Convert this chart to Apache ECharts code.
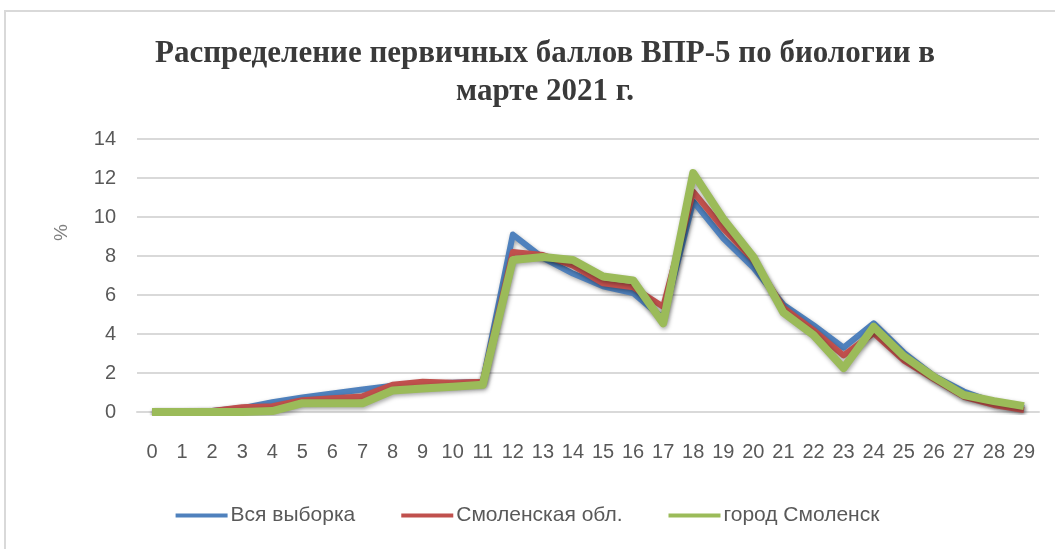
<!DOCTYPE html>
<html>
<head>
<meta charset="utf-8">
<script src="https://cdn.jsdelivr.net/npm/echarts@6/dist/echarts.min.js"></script>
<style>
  html, body { margin: 0; padding: 0; background: #fff; overflow: hidden; }
  #frame { position: absolute; left: 4px; top: 10px; width: 1200px; height: 700px;
           border: 2px solid #d9d9d9; box-sizing: border-box; }
  #chart { position: absolute; left: 0; top: 0; width: 1055px; height: 549px; }
</style>
</head>
<body>
<div id="frame"></div>
<div id="chart"></div>
<script>
// первичные баллы 0..29
var scores = ['0','1','2','3','4','5','6','7','8','9','10','11','12','13','14','15','16','17','18','19','20','21','22','23','24','25','26','27','28','29'];

var allSample = [0, 0, 0.05, 0.2, 0.5, 0.75, 0.95, 1.15, 1.35, 1.45, 1.5, 1.55, 9.1, 7.9, 7.1, 6.45, 6.1, 4.8, 10.8, 8.9, 7.4, 5.5, 4.45, 3.3, 4.55, 3.05, 1.85, 1.05, 0.5, 0.2];
var smolenskRegion = [0, 0, 0.05, 0.25, 0.3, 0.6, 0.7, 0.8, 1.4, 1.55, 1.5, 1.55, 8.2, 8.05, 7.5, 6.6, 6.4, 5.4, 11.3, 9.4, 7.8, 5.35, 4.2, 2.9, 4.05, 2.65, 1.7, 0.78, 0.36, 0.1];
var smolenskCity = [0, 0, 0, 0, 0.05, 0.45, 0.45, 0.45, 1.1, 1.2, 1.3, 1.4, 7.8, 7.95, 7.8, 6.95, 6.75, 4.55, 12.25, 9.9, 7.95, 5.1, 3.95, 2.25, 4.37, 2.87, 1.8, 0.87, 0.56, 0.3];

var yTicks = [0, 2, 4, 6, 8, 10, 12, 14];

var chart = echarts.init(document.getElementById('chart'));

function lineSeries(name, data, color, width) {
    return {
        name: name,
        type: 'line',
        data: data,
        symbol: 'none',
        smooth: false,
        lineStyle: {
            color: color,
            width: width,
            join: 'round',
            shadowColor: 'rgba(0,0,0,0.35)',
            shadowBlur: 4,
            shadowOffsetX: 1,
            shadowOffsetY: 2
        },
        itemStyle: { color: color }
    };
}

var option = {
    animation: false,
    backgroundColor: 'transparent',
    title: {
        text: 'Распределение первичных баллов ВПР-5 по биологии в\nмарте 2021 г.',
        left: 540,
        textAlign: 'center',
        top: 30,
        textStyle: {
            fontFamily: '"Liberation Serif", "DejaVu Serif", serif',
            fontWeight: 'bold',
            fontSize: 31,
            lineHeight: 38,
            color: '#3a3a3a'
        }
    },
    legend: {
        bottom: 18,
        left: 'center',
        itemWidth: 52,
        itemHeight: 4,
        itemGap: 46,
        icon: 'rect',
        textStyle: {
            fontFamily: '"Liberation Sans Narrow", "Liberation Sans", sans-serif',
            fontSize: 21,
            color: '#595959',
            padding: [0, 0, 0, -2]
        },
        data: ['Вся выборка', 'Смоленская обл.', 'город Смоленск']
    },
    grid: {
        left: 137,
        right: 16,
        top: 139,
        bottom: 137,
        containLabel: false
    },
    xAxis: {
        type: 'category',
        data: scores,
        boundaryGap: true,
        axisLine: { show: true, lineStyle: { color: '#d9d9d9', width: 2 } },
        axisTick: { show: false },
        axisLabel: {
            margin: 30,
            interval: 0,
            fontFamily: '"Liberation Sans Narrow", "Liberation Sans", sans-serif',
            fontSize: 20,
            color: '#595959'
        }
    },
    yAxis: {
        type: 'value',
        min: 0,
        max: 14,
        interval: 2,
        name: '%',
        nameLocation: 'middle',
        nameRotate: 90,
        nameGap: 66,
        nameTextStyle: {
            fontFamily: '"Liberation Sans", sans-serif',
            fontSize: 19,
            color: '#7f7f7f',
            padding: [0, 0, 0, 86]
        },
        axisLine: { show: false },
        axisTick: { show: false },
        splitLine: { lineStyle: { color: '#d9d9d9', width: 2 } },
        axisLabel: {
            margin: 21,
            fontFamily: '"Liberation Sans", sans-serif',
            fontSize: 20,
            color: '#595959',
            formatter: function (v) { return yTicks.indexOf(v) >= 0 ? String(v) : ''; }
        }
    },
    series: [
        lineSeries('Вся выборка', allSample, '#4f81bd', 6),
        lineSeries('Смоленская обл.', smolenskRegion, '#c0504d', 6),
        lineSeries('город Смоленск', smolenskCity, '#9bbb59', 8)
    ]
};

chart.setOption(option);
window.addEventListener('resize', function () {
    chart.resize();
});
</script>
</body>
</html>
